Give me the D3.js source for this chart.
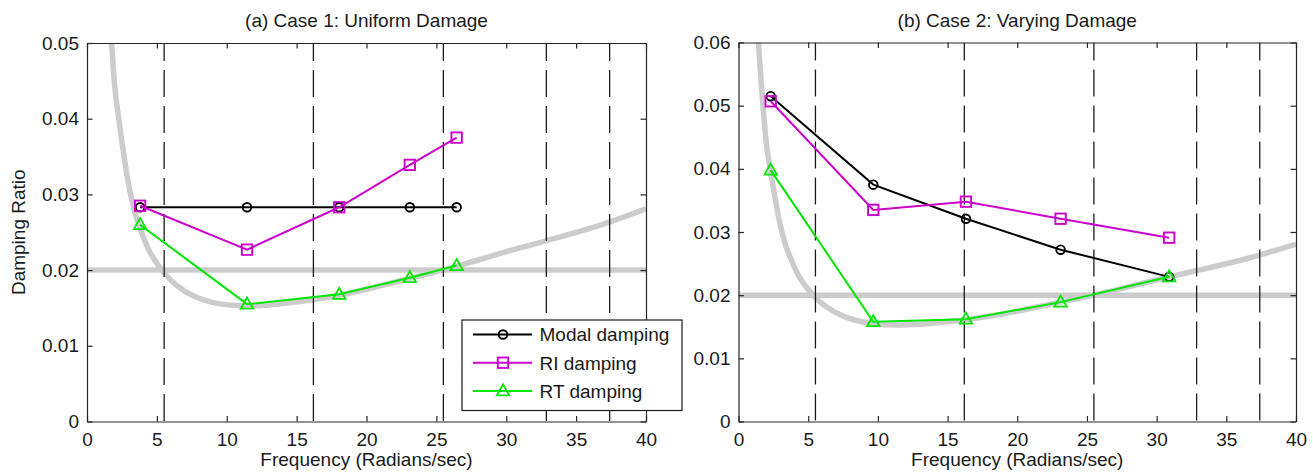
<!DOCTYPE html>
<html>
<head>
<meta charset="utf-8">
<script src="https://cdn.jsdelivr.net/npm/d3@7"></script>
<style>
  body { margin: 0; background: #fff; }
  svg { display: block; }
  text { font-family: "Liberation Sans", Arial, Helvetica, sans-serif; font-size: 19px; fill: #1a1a1a; }
</style>
</head>
<body>
<svg id="chart" width="1313" height="473"></svg>
<script>
// ---- data -------------------------------------------------------------
// Case 1: uniform damage (frequency in rad/s, damping ratio)
const freqCase1  = [3.8, 11.45, 18.05, 23.1, 26.45];
const modalCase1 = [0.0283, 0.0283, 0.0283, 0.0283, 0.0283];
const riCase1    = [0.0285, 0.0227, 0.0283, 0.0339, 0.0375];
const rtCase1    = [0.0260, 0.0155, 0.0168, 0.0190, 0.0206];

// Case 2: varying damage
const freqCase2  = [2.31, 9.67, 16.32, 23.11, 30.9];
const modalCase2 = [0.0515, 0.0375, 0.0321, 0.0272, 0.0229];
const riCase2    = [0.0507, 0.0335, 0.0348, 0.0321, 0.0291];
const rtCase2    = [0.0398, 0.0158, 0.0162, 0.0189, 0.0229];

// Undamaged natural frequencies (vertical dashed markers)
const naturalFreqs = [5.52, 16.2, 25.5, 32.87, 37.4];

// Target damping ratio and the Rayleigh damping curve (frequency, ratio)
const targetDamping = 0.02;
const rayleighFreq  = [1.3, 1.42, 1.6, 1.77, 2.0, 2.36, 2.96, 3.4, 3.9, 4.5, 5.4, 6.4, 7.6, 9.3,
                       11.0, 13.0, 15.5, 18.1, 20.5, 23.1, 26.45, 28.1, 30.9, 32.9, 36.5, 40];
const rayleighRatio = [0.0660, 0.0605, 0.0545, 0.0497, 0.0440, 0.0388, 0.0315, 0.0278, 0.0250, 0.0224,
                       0.0199, 0.0180, 0.0166, 0.0156, 0.0153, 0.0154, 0.0159, 0.0167, 0.0177, 0.0189,
                       0.0205, 0.0214, 0.0229, 0.0239, 0.0258, 0.0281];

// Axis ticks
const xTicks       = [0, 5, 10, 15, 20, 25, 30, 35, 40];
const xTickLabels  = ["0", "5", "10", "15", "20", "25", "30", "35", "40"];
const yTicks1      = [0, 0.01, 0.02, 0.03, 0.04, 0.05];
const yTickLabels1 = ["0", "0.01", "0.02", "0.03", "0.04", "0.05"];
const yTicks2      = [0, 0.01, 0.02, 0.03, 0.04, 0.05, 0.06];
const yTickLabels2 = ["0", "0.01", "0.02", "0.03", "0.04", "0.05", "0.06"];

const seriesNames = ["Modal damping", "RI damping", "RT damping"];

// ---- styles -------------------------------------------------------------
const seriesStyle = [
  { color: "#000000", marker: "circle" },
  { color: "#cc00cc", marker: "square" },
  { color: "#00e600", marker: "triangle" }
];

const panels = [
  { key: "a", title: "(a) Case 1: Uniform Damage", freq: freqCase1,
    series: [modalCase1, riCase1, rtCase1], yMax: 0.05, yTicks: yTicks1, yLabels: yTickLabels1,
    left: 87, right: 646, top: 43, bottom: 421.5, yTitle: "Damping Ratio", legend: true },
  { key: "b", title: "(b) Case 2: Varying Damage", freq: freqCase2,
    series: [modalCase2, riCase2, rtCase2], yMax: 0.06, yTicks: yTicks2, yLabels: yTickLabels2,
    left: 738.5, right: 1296, top: 42.5, bottom: 421.5, yTitle: null, legend: false }
];

const svg = d3.select("#chart");
const axisColor = "#262626";

function drawMarker(g, type, cx, cy, color) {
  if (type === "circle") {
    g.append("circle").attr("cx", cx).attr("cy", cy).attr("r", 4.3)
      .attr("fill", "none").attr("stroke", color).attr("stroke-width", 1.9);
  } else if (type === "square") {
    g.append("rect").attr("x", cx - 5.2).attr("y", cy - 5.2).attr("width", 10.4).attr("height", 10.4)
      .attr("fill", "none").attr("stroke", color).attr("stroke-width", 1.9);
  } else {
    g.append("path")
      .attr("d", `M${cx},${cy - 6.5}L${cx + 6.2},${cy + 4.5}L${cx - 6.2},${cy + 4.5}Z`)
      .attr("fill", "none").attr("stroke", color).attr("stroke-width", 1.8);
  }
}

panels.forEach(p => {
  const x = d3.scaleLinear().domain([0, 40]).range([p.left, p.right]);
  const y = d3.scaleLinear().domain([0, p.yMax]).range([p.bottom, p.top]);
  const g = svg.append("g").attr("class", "panel-" + p.key);

  const clipId = "clip-" + p.key;
  svg.append("defs").append("clipPath").attr("id", clipId)
    .append("rect").attr("x", p.left).attr("y", p.top)
    .attr("width", p.right - p.left).attr("height", p.bottom - p.top);

  const plot = g.append("g").attr("clip-path", `url(#${clipId})`);

  // target ratio line and Rayleigh curve
  plot.append("line")
    .attr("x1", x(0)).attr("x2", x(40))
    .attr("y1", y(targetDamping)).attr("y2", y(targetDamping))
    .attr("stroke", "#cccccc").attr("stroke-width", 5.5);

  const curvePts = rayleighFreq.map((f, i) => [f, rayleighRatio[i]]);
  plot.append("path")
    .datum(curvePts)
    .attr("d", d3.line().x(d => x(d[0])).y(d => y(d[1])).curve(d3.curveCatmullRom.alpha(0.5)))
    .attr("fill", "none").attr("stroke", "#cccccc").attr("stroke-width", 5.5);

  // natural frequency markers
  plot.selectAll("line.nat").data(naturalFreqs).enter().append("line")
    .attr("class", "nat")
    .attr("x1", d => x(d)).attr("x2", d => x(d))
    .attr("y1", p.top).attr("y2", p.bottom)
    .attr("stroke", "#1a1a1a").attr("stroke-width", 1.3)
    .attr("stroke-dasharray", "27,9").attr("stroke-dashoffset", 9);

  // data series
  p.series.forEach((vals, si) => {
    const st = seriesStyle[si];
    const pts = p.freq.map((f, i) => [f, vals[i]]);
    plot.append("path").datum(pts)
      .attr("d", d3.line().x(d => x(d[0])).y(d => y(d[1])))
      .attr("fill", "none").attr("stroke", st.color).attr("stroke-width", 2);
    const mg = plot.append("g");
    pts.forEach(d => drawMarker(mg, st.marker, x(d[0]), y(d[1]), st.color));
  });

  // axes: ticks inside on all four sides
  const styleAxis = sel => {
    sel.select(".domain").attr("stroke", axisColor).attr("stroke-width", 1.2);
    sel.selectAll(".tick line").attr("stroke", axisColor).attr("stroke-width", 1.2);
    sel.selectAll(".tick text").attr("fill", "#1a1a1a").style("font-size", "19px")
      .style("font-family", '"Liberation Sans", Arial, sans-serif');
  };

  g.append("g").attr("transform", `translate(0,${p.bottom})`)
    .call(d3.axisBottom(x).tickValues(xTicks).tickFormat((d, i) => xTickLabels[i])
      .tickSizeInner(-5.5).tickSizeOuter(0).tickPadding(11))
    .call(styleAxis);
  g.append("g").attr("transform", `translate(0,${p.top})`)
    .call(d3.axisTop(x).tickValues(xTicks).tickFormat("")
      .tickSizeInner(-5.5).tickSizeOuter(0))
    .call(styleAxis);
  g.append("g").attr("transform", `translate(${p.left},0)`)
    .call(d3.axisLeft(y).tickValues(p.yTicks).tickFormat((d, i) => p.yLabels[i])
      .tickSizeInner(-5.5).tickSizeOuter(0).tickPadding(8))
    .call(styleAxis);
  g.append("g").attr("transform", `translate(${p.right},0)`)
    .call(d3.axisRight(y).tickValues(p.yTicks).tickFormat("")
      .tickSizeInner(-5.5).tickSizeOuter(0))
    .call(styleAxis);

  // titles
  g.append("text").attr("x", (p.left + p.right) / 2).attr("y", 27)
    .attr("text-anchor", "middle").text(p.title);
  g.append("text").attr("x", (p.left + p.right) / 2).attr("y", 466)
    .attr("text-anchor", "middle").text("Frequency (Radians/sec)");
  if (p.yTitle) {
    g.append("text").attr("transform", `translate(24.5,${(p.top + p.bottom) / 2}) rotate(-90)`)
      .attr("text-anchor", "middle").text(p.yTitle);
  }

  // legend
  if (p.legend) {
    const lg = svg.append("g").attr("class", "legend");
    lg.append("rect").attr("x", 462).attr("y", 320).attr("width", 220).attr("height", 90.5)
      .attr("fill", "#ffffff").attr("stroke", "#1a1a1a").attr("stroke-width", 1.2);
    const rowY = [334.5, 362.7, 390.9];
    seriesNames.forEach((name, i) => {
      const st = seriesStyle[i];
      lg.append("line").attr("x1", 473).attr("x2", 532).attr("y1", rowY[i]).attr("y2", rowY[i])
        .attr("stroke", st.color).attr("stroke-width", 2);
      drawMarker(lg, st.marker, 503, rowY[i], st.color);
      lg.append("text").attr("x", 539.5).attr("y", rowY[i] + 6.8).text(name);
    });
  }
});
</script>
</body>
</html>
